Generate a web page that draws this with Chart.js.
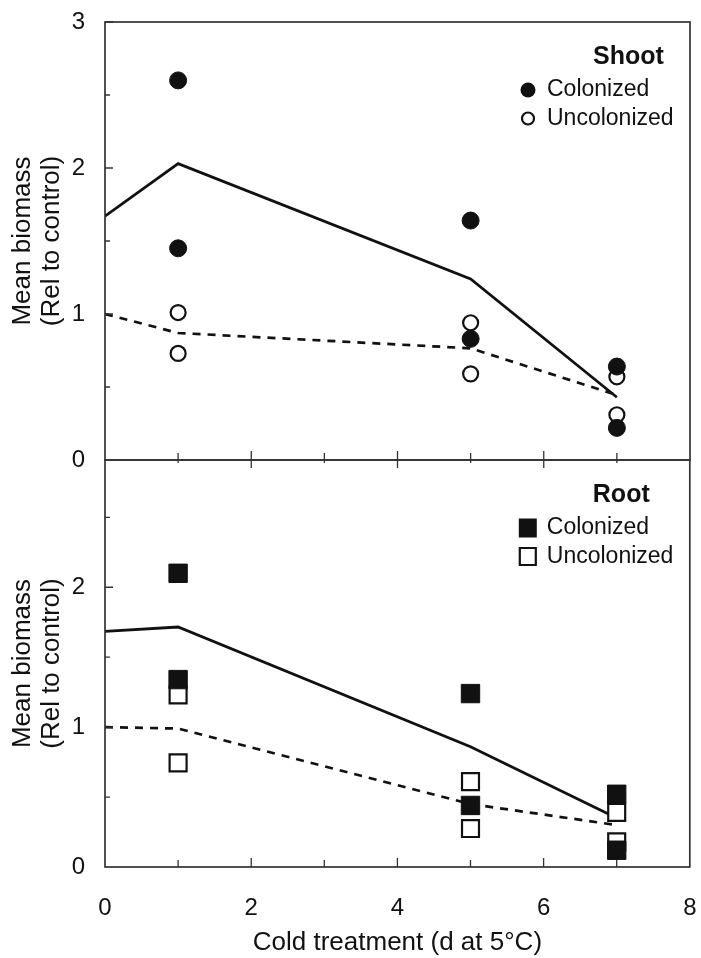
<!DOCTYPE html>
<html>
<head>
<meta charset="utf-8">
<script src="https://cdn.jsdelivr.net/npm/chart.js@4.4.0/dist/chart.umd.min.js"></script>
<style>
  html, body { margin: 0; padding: 0; background: #fff; overflow: hidden; }
  #wrap { position: relative; width: 701px; height: 958px; overflow: hidden; }
  canvas { position: absolute; left: 0; }
  #shootChart { top: 0; }
  #rootChart { top: 440px; }
</style>
</head>
<body>
<div id="wrap">
  <canvas id="shootChart" width="701" height="480"></canvas>
  <canvas id="rootChart" width="704" height="518"></canvas>
</div>
<script>
const FONT = "'Liberation Sans', Arial, Helvetica, sans-serif";
const INK = "#111";

// mean lines (d at 5 C)
const meanDays = [0, 1, 5, 7];
const shootColMean = [1.67, 2.03, 1.24, 0.43];
const shootUncMean = [1.0, 0.87, 0.765, 0.445];
const rootColMean = [1.685, 1.716, 0.86, 0.35];
const rootUncMean = [1.0, 0.99, 0.45, 0.30];

// single plants
const pointDays = [1, 1, 5, 5, 7, 7];
const shootCol = [2.60, 1.45, 1.64, 0.83, 0.64, 0.22];
const shootUnc = [1.01, 0.73, 0.94, 0.59, 0.57, 0.31];
const rootCol = [2.10, 1.34, 1.24, 0.44, 0.52, 0.12];
const rootUnc = [1.23, 0.745, 0.61, 0.275, 0.39, 0.18];

const xMinor = [1, 3, 5, 7];
const yMinor = [0.5, 1.5, 2.5];
const legendLabels = ["Colonized", "Uncolonized"];

const pts = (xs, ys) => xs.map((x, i) => ({ x, y: ys[i] }));

function meanLine(ys, dashed) {
  return {
    data: pts(meanDays, ys),
    borderColor: INK,
    borderWidth: dashed ? 2.7 : 2.8,
    borderDash: dashed ? [8, 7] : [],
    pointRadius: 0,
    tension: 0,
    order: 3
  };
}

function marks(ys, style, filled) {
  const isRect = style === "rect";
  return {
    data: pts(pointDays, ys),
    showLine: false,
    pointStyle: style,
    pointRadius: isRect ? (filled ? 13 : 12) : (filled ? 8.5 : 7.5),
    pointBackgroundColor: filled ? INK : "#fff",
    pointBorderColor: INK,
    pointBorderWidth: filled ? 1 : 2.2,
    order: filled ? 1 : 2
  };
}

// box, inward ticks
const framePlugin = {
  id: "frame",
  afterDatasetsDraw(chart, args, opts) {
    const { ctx, chartArea: a, scales: { x, y } } = chart;
    ctx.save();
    ctx.strokeStyle = "#333";
    ctx.lineWidth = 1.7;
    ctx.strokeRect(a.left, a.top, a.right - a.left, a.bottom - a.top);
    ctx.lineWidth = 1.3;
    ctx.beginPath();
    y.ticks.forEach(t => {
      if (t.value === 0) return;
      const py = y.getPixelForValue(t.value);
      ctx.moveTo(a.left, py); ctx.lineTo(a.left + 8, py);
    });
    yMinor.forEach(v => {
      if (v > y.max) return;
      const py = y.getPixelForValue(v);
      ctx.moveTo(a.left, py); ctx.lineTo(a.left + 5, py);
    });
    [2, 4, 6].forEach(v => {
      const px = x.getPixelForValue(v);
      ctx.moveTo(px, a.bottom + (opts.cross ? 8 : 0)); ctx.lineTo(px, a.bottom - 9);
    });
    xMinor.forEach(v => {
      const px = x.getPixelForValue(v);
      ctx.moveTo(px, a.bottom + (opts.cross ? 3 : 0)); ctx.lineTo(px, a.bottom - 7);
    });
    ctx.stroke();
    ctx.restore();
  }
};

const keyPlugin = {
  id: "key",
  afterDraw(chart, args, opts) {
    const { ctx, chartArea: a } = chart;
    ctx.save();
    ctx.fillStyle = INK;
    ctx.strokeStyle = INK;
    ctx.textBaseline = "middle";
    ctx.textAlign = "left";
    ctx.font = "bold 25px " + FONT;
    ctx.fillText(opts.title, a.right - 97, a.top + 35);
    ctx.font = "23px " + FONT;
    legendLabels.forEach((lab, i) => {
      const cy = a.top + 68 + i * 28.5;
      const cx = a.right - 162;
      const filled = i === 0;
      ctx.beginPath();
      if (opts.style === "rect") {
        if (filled) ctx.rect(cx - 9, cy - 9.5, 18, 19);
        else ctx.rect(cx - 8, cy - 8.5, 16, 17);
      } else {
        ctx.arc(cx, cy, filled ? 7.5 : 6, 0, Math.PI * 2);
      }
      if (filled) ctx.fill();
      else { ctx.lineWidth = 2.2; ctx.stroke(); }
      ctx.fillText(lab, a.right - 143, cy);
    });
    ctx.restore();
  }
};

function yScale(max) {
  return {
    min: 0,
    max,
    afterFit: s => { s.width = 105; s.paddingTop = 0; s.paddingBottom = 0; },
    grid: { display: false, drawTicks: true, tickLength: 20 },
    border: { display: false },
    ticks: {
      stepSize: 1,
      includeBounds: false,
      padding: 0,
      color: INK,
      font: { family: FONT, size: 24 }
    },
    title: {
      display: true,
      text: ["Mean biomass", "(Rel to control)"],
      color: INK,
      font: { family: FONT, size: 26, lineHeight: 1.12 },
      padding: { top: 8, bottom: 0 }
    }
  };
}

function build(id, datasets, opts) {
  return new Chart(document.getElementById(id), {
    type: "line",
    data: { datasets },
    plugins: [framePlugin, keyPlugin],
    options: {
      responsive: false,
      animation: false,
      layout: { padding: opts.padding },
      scales: {
        x: {
          type: "linear",
          min: 0,
          max: 8,
          display: opts.showX,
          afterFit: s => {
            if (opts.showX) s.height = 91;
            s.paddingLeft = 0;
            s.paddingRight = 0;
          },
          grid: { display: false, drawTicks: true, tickLength: 27 },
          border: { display: false },
          ticks: {
            stepSize: 2,
            padding: 0,
            color: INK,
            font: { family: FONT, size: 24 }
          },
          title: {
            display: true,
            text: "Cold treatment (d at 5°C)",
            color: INK,
            font: { family: FONT, size: 26 },
            padding: { top: 0, bottom: 0 }
          }
        },
        y: yScale(opts.yMax)
      },
      plugins: {
        legend: { display: false },
        tooltip: { enabled: false },
        frame: { cross: opts.cross },
        key: { title: opts.title, style: opts.style }
      }
    }
  });
}

build("shootChart", [
  meanLine(shootColMean, false),
  meanLine(shootUncMean, true),
  marks(shootUnc, "circle", false),
  marks(shootCol, "circle", true)
], { padding: { top: 22, right: 11, bottom: 20, left: 0 }, showX: false, yMax: 3, cross: true, title: "Shoot", style: "circle" });

build("rootChart", [
  meanLine(rootColMean, false),
  meanLine(rootUncMean, true),
  marks(rootUnc, "rect", false),
  marks(rootCol, "rect", true)
], { padding: { top: 20, right: 11, bottom: 0, left: 0 }, showX: true, yMax: 2.91, cross: false, title: "Root", style: "rect" });
</script>
</body>
</html>
